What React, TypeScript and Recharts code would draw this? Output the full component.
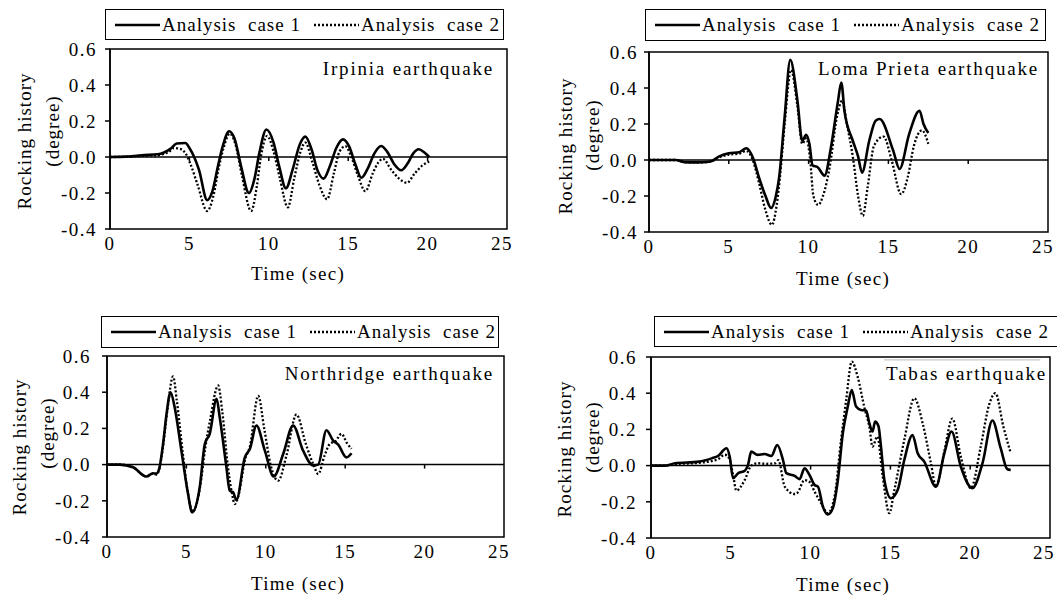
import React from "react";
import {
  LineChart, Line, XAxis, YAxis, ReferenceLine, ReferenceArea, Legend,
} from "recharts";

const FONT = "'Liberation Serif', 'Times New Roman', serif";

const X_TICKS = [0, 5, 10, 15, 20, 25];
const Y_TICKS = [-0.4, -0.2, 0, 0.2, 0.4, 0.6];
const ZERO_TICKS = [5, 10, 15, 20];
const SERIES_NAMES = ["Analysis  case 1", "Analysis  case 2"];

// [time (s), rocking (deg)]
const irpinia1: [number, number][] = [
  [0, 0], [1, 0.002], [1.5, 0.006], [2, 0.01], [3, 0.015], [3.4, 0.025], [3.8, 0.045], [4.2, 0.075],
  [4.75, 0.078], [5.0, 0.05], [5.3, 0.0], [5.6, -0.07], [6.12, -0.24], [6.45, -0.19], [6.8, -0.05],
  [7.1, 0.06], [7.5, 0.143], [7.85, 0.1], [8.25, -0.05], [8.75, -0.2], [9.1, -0.12], [9.4, 0.02],
  [9.85, 0.153], [10.3, 0.08], [10.65, -0.05], [11.08, -0.174], [11.5, -0.07], [11.95, 0.07],
  [12.3, 0.113], [12.7, 0.04], [13.05, -0.07], [13.45, -0.12], [13.85, -0.05], [14.25, 0.05],
  [14.68, 0.098], [15.05, 0.06], [15.45, -0.04], [15.83, -0.115], [16.25, -0.06], [16.65, 0.02],
  [17.07, 0.061], [17.45, 0.03], [17.9, -0.04], [18.34, -0.074], [18.75, -0.035], [19.1, 0.02],
  [19.43, 0.043], [19.8, 0.025], [20.1, 0.0],
];
const irpinia2: [number, number][] = [
  [0, 0], [1, 0.001], [1.5, 0.004], [2, 0.007], [3, 0.01], [3.4, 0.018], [3.8, 0.035], [4.0, 0.05],
  [4.4, 0.045], [4.76, 0.02], [5.07, -0.04], [5.5, -0.15], [6.12, -0.3], [6.5, -0.22], [6.85, -0.06],
  [7.15, 0.05], [7.55, 0.13], [7.9, 0.07], [8.3, -0.1], [8.89, -0.3], [9.25, -0.16], [9.5, 0.0],
  [9.9, 0.117], [10.3, 0.03], [10.7, -0.12], [11.2, -0.28], [11.6, -0.12], [12.0, 0.03],
  [12.3, 0.08], [12.75, -0.03], [13.2, -0.16], [13.67, -0.235], [14.1, -0.09], [14.45, 0.03],
  [14.82, 0.06], [15.2, 0.0], [15.6, -0.1], [16.08, -0.19], [16.55, -0.09], [16.9, -0.03],
  [17.19, -0.01], [17.7, -0.07], [18.2, -0.12], [18.7, -0.143], [19.2, -0.09], [19.7, -0.045],
  [20.1, -0.025],
];

const loma1: [number, number][] = [
  [0, 0], [1.7, 0], [2.2, -0.012], [3.0, -0.013], [3.8, -0.01], [4.4, 0.02], [5.0, 0.037],
  [5.65, 0.043], [6.1, 0.065], [6.5, 0.015], [6.9, -0.1], [7.3, -0.2], [7.65, -0.267], [7.95, -0.2],
  [8.15, -0.1], [8.5, 0.24], [8.85, 0.556], [9.3, 0.33], [9.6, 0.107], [9.85, 0.14], [10.05, 0.09],
  [10.25, -0.03], [10.57, -0.04], [11.0, -0.087], [11.4, 0.07], [11.83, 0.32], [12.05, 0.43],
  [12.25, 0.27], [12.77, 0.107], [13.1, 0.02], [13.35, -0.07], [13.8, 0.107], [14.2, 0.218],
  [14.45, 0.228], [15.3, 0.052], [15.7, -0.05], [16.3, 0.144], [16.95, 0.274], [17.2, 0.2],
  [17.5, 0.15],
];
const loma2: [number, number][] = [
  [0, 0], [1.7, 0], [2.2, -0.012], [3.0, -0.013], [3.8, -0.01], [4.4, 0.015], [5.0, 0.03],
  [5.65, 0.035], [6.1, 0.05], [6.5, 0.0], [6.9, -0.13], [7.3, -0.28], [7.7, -0.36], [8.0, -0.25],
  [8.2, -0.1], [8.5, 0.2], [8.9, 0.5], [9.3, 0.3], [9.6, 0.09], [9.85, 0.12], [10.1, 0.0],
  [10.3, -0.2], [10.6, -0.25], [10.9, -0.2], [11.3, -0.05], [11.8, 0.25], [12.1, 0.33], [12.4, 0.2],
  [12.8, 0.0], [13.1, -0.2], [13.4, -0.31], [13.7, -0.15], [14.1, 0.08], [14.7, 0.13], [15.2, 0.0],
  [15.8, -0.19], [16.2, -0.1], [16.6, 0.08], [17.1, 0.165], [17.5, 0.09],
];

const northridge1: [number, number][] = [
  [0, 0], [0.8, 0], [1.64, -0.015], [2.48, -0.066], [2.9, -0.048], [3.1, -0.05], [3.28, -0.025],
  [3.53, 0.114], [3.75, 0.28], [4.0, 0.4], [4.26, 0.317], [4.68, 0.08], [5.1, -0.16], [5.36, -0.264],
  [5.84, -0.125], [6.16, 0.114], [6.47, 0.17], [6.9, 0.363], [7.1, 0.26], [7.5, 0.0], [7.73, -0.144],
  [7.94, -0.153], [8.15, -0.196], [8.68, 0.04], [9.0, 0.087], [9.41, 0.216], [9.94, 0.077],
  [10.5, -0.066], [11.1, 0.06], [11.72, 0.216], [12.35, 0.077], [12.98, -0.005], [13.3, 0],
  [13.82, 0.19], [14.24, 0.133], [14.56, 0.11], [15.08, 0.04], [15.4, 0.063],
];
const northridge2: [number, number][] = [
  [0, 0], [0.8, 0], [1.64, -0.015], [2.48, -0.066], [2.9, -0.05], [3.1, -0.055], [3.28, -0.03],
  [3.53, 0.1], [3.8, 0.3], [4.16, 0.487], [4.4, 0.35], [4.75, 0.08], [5.1, -0.16], [5.4, -0.26],
  [5.85, -0.13], [6.2, 0.1], [6.5, 0.25], [7.0, 0.437], [7.25, 0.3], [7.6, 0.0], [7.85, -0.15],
  [8.05, -0.218], [8.25, -0.18], [8.7, 0.03], [9.0, 0.1], [9.52, 0.38], [9.9, 0.2], [10.3, 0.0],
  [10.78, -0.089], [11.3, 0.05], [11.93, 0.277], [12.5, 0.12], [13.0, 0.0], [13.3, -0.052],
  [13.7, 0.05], [14.03, 0.114], [14.4, 0.13], [14.77, 0.17], [15.1, 0.12], [15.4, 0.087],
];

const tabas1: [number, number][] = [
  [0, 0], [0.9, 0], [1.5, 0.013], [3.0, 0.022], [3.8, 0.04], [4.2, 0.053], [4.73, 0.096],
  [4.93, 0.05], [5.14, -0.07], [5.46, -0.042], [5.88, -0.028], [6.08, 0.004], [6.28, 0.077],
  [6.68, 0.059], [7.12, 0.064], [7.54, 0.053], [7.91, 0.114], [8.27, 0.031], [8.48, -0.042],
  [9.0, -0.057], [9.31, -0.075], [9.62, -0.015], [9.93, -0.052], [10.25, -0.107], [10.46, -0.116],
  [10.77, -0.227], [11.08, -0.27], [11.39, -0.236], [11.71, -0.079], [12.02, 0.179], [12.33, 0.326],
  [12.58, 0.418], [12.85, 0.326], [13.16, 0.307], [13.48, 0.304], [13.68, 0.234], [13.88, 0.188],
  [14.04, 0.243], [14.25, 0.219], [14.41, 0.105], [14.62, -0.079], [15.04, -0.18], [15.46, -0.134],
  [15.87, 0.031], [16.39, 0.169], [16.71, 0.068], [17.12, 0.022], [17.85, -0.116], [18.38, 0.068],
  [18.83, 0.188], [19.41, -0.005], [20.14, -0.125], [20.77, 0.013], [21.39, 0.249], [21.91, 0.096],
  [22.33, -0.02], [22.54, -0.024],
];
const tabas2: [number, number][] = [
  [0, 0], [0.9, 0], [1.5, 0.008], [3.0, 0.015], [3.8, 0.025], [4.2, 0.035], [4.62, 0.06],
  [4.9, 0.04], [5.14, -0.05], [5.35, -0.138], [5.87, -0.08], [6.28, 0], [6.68, 0.013], [7.2, 0.01],
  [7.78, 0.013], [7.98, 0.03], [8.38, -0.116], [9.0, -0.157], [9.18, -0.15], [9.62, -0.08],
  [9.93, -0.09], [10.25, -0.144], [10.66, -0.208], [11.08, -0.263], [11.5, -0.171], [11.91, 0.142],
  [12.23, 0.363], [12.58, 0.575], [12.95, 0.49], [13.38, 0.317], [13.68, 0.215], [13.88, 0.105],
  [14.18, 0.16], [14.52, -0.06], [14.93, -0.263], [15.25, -0.134], [15.87, 0.142], [16.5, 0.372],
  [17.02, 0.234], [17.54, 0.013], [17.85, -0.116], [18.38, 0.08], [18.88, 0.26], [19.41, 0.05],
  [20.04, -0.125], [20.66, 0.105], [21.18, 0.335], [21.58, 0.4], [22.08, 0.215], [22.54, 0.068],
];

const toRows = (pts: [number, number][]) => pts.map(([t, v]) => ({ t, v }));

type PanelCfg = {
  x: number; y: number; w: number; h: number;
  margin: { top: number; right: number; bottom: number; left: number };
  legend: { left: number; top: number; width: number; height: number };
  ytm: number;
  s1: [number, number][]; s2: [number, number][];
  title: string; titleX: number; titleY: number;
  yl1: [number, number]; yl2: [number, number];
  xl: [number, number];
  rule?: boolean;
};

const PANELS: PanelCfg[] = [
  {
    x: 0, y: 0, w: 530, h: 300,
    margin: { top: 49, right: 23, bottom: 41, left: 50 },
    legend: { left: 105, top: 9, width: 399, height: 31 }, ytm: 8,
    s1: irpinia1, s2: irpinia2,
    title: "Irpinia earthquake", titleX: 494, titleY: 68,
    yl1: [24, 141], yl2: [52, 131], xl: [298, 273],
  },
  {
    x: 530, y: 0, w: 527, h: 300,
    margin: { top: 52, right: 9, bottom: 38, left: 59 },
    legend: { left: 115, top: 9, width: 401, height: 32 }, ytm: 6,
    s1: loma1, s2: loma2,
    title: "Loma Prieta earthquake", titleX: 1039, titleY: 68,
    yl1: [565, 146], yl2: [592, 135], xl: [843, 278],
  },
  {
    x: 0, y: 300, w: 530, h: 297,
    margin: { top: 56, right: 26, bottom: 30, left: 47 },
    legend: { left: 101, top: 16, width: 398, height: 32 }, ytm: 11,
    s1: northridge1, s2: northridge2,
    title: "Northridge earthquake", titleX: 494, titleY: 373,
    yl1: [19, 447], yl2: [47, 433], xl: [298, 583],
  },
  {
    x: 530, y: 300, w: 527, h: 297,
    margin: { top: 57, right: 7, bottom: 29, left: 61 },
    legend: { left: 124, top: 16, width: 420, height: 31 }, ytm: 9,
    s1: tabas1, s2: tabas2,
    title: "Tabas earthquake", titleX: 1047, titleY: 373,
    yl1: [564, 449], yl2: [592, 437], xl: [843, 584],
    rule: true,
  },
];

const tickStyle = { fill: "#000", fontSize: 19, fontFamily: FONT, letterSpacing: 1.5 };

// last x label sits a little left of the axis end, like the original
function XTick({ x, y, payload }: any) {
  const shift = payload.value === 25 ? -5 : 0;
  return (
    <text x={x + shift} y={y} dy="0.71em" textAnchor="middle" {...tickStyle}>
      {payload.value}
    </text>
  );
}

function LegendBox({ payload, width, height }: any) {
  const items = payload ?? [];
  return (
    <div
      style={{
        width, height, boxSizing: "border-box", border: "1.5px solid #000", background: "#fff",
        display: "flex", alignItems: "center", paddingLeft: 9, fontFamily: FONT, fontSize: 19,
        letterSpacing: 1, whiteSpace: "pre", color: "#000",
      }}
    >
      {items.map((it: any, i: number) => (
        <React.Fragment key={i}>
          <svg width={45} height={10} style={{ marginLeft: i === 0 ? 0 : 13, marginRight: 2 }}>
            <line x1={0} y1={5} x2={45} y2={5} stroke="#000" strokeWidth={2.5}
              strokeDasharray={i === 0 ? undefined : "2 2"} />
          </svg>
          <span>{it.value}</span>
        </React.Fragment>
      ))}
    </div>
  );
}

function Panel({ cfg }: { cfg: PanelCfg }) {
  const { legend } = cfg;
  return (
    <div style={{ position: "absolute", left: cfg.x, top: cfg.y }}>
      <LineChart width={cfg.w} height={cfg.h} margin={cfg.margin}>
        <XAxis type="number" dataKey="t" domain={[0, 25]} ticks={X_TICKS} allowDataOverflow
          axisLine={false} tickLine={false} tick={<XTick />} height={30} />
        <YAxis type="number" dataKey="v" domain={[-0.4, 0.6]} ticks={Y_TICKS} allowDataOverflow
          tickFormatter={(v: number) => v.toFixed(1)} width={60}
          axisLine={{ stroke: "#000", strokeWidth: 1.5 }} tickLine={{ stroke: "#000", strokeWidth: 1.5 }}
          tickSize={5} tickMargin={cfg.ytm} tick={tickStyle} />
        <ReferenceArea x1={0} x2={25} y1={-0.4} y2={0.6} fill="none" fillOpacity={0}
          stroke="#000" strokeWidth={1.5} strokeOpacity={1} />
        <ReferenceLine y={0} stroke="#000" strokeWidth={1.5} />
        {ZERO_TICKS.map((t) => (
          <ReferenceLine key={t} segment={[{ x: t, y: 0 }, { x: t, y: -0.022 }]} stroke="#000" strokeWidth={1.5} />
        ))}
        {cfg.rule && (
          <ReferenceLine segment={[{ x: 14.6, y: 0.584 }, { x: 24.4, y: 0.584 }]} stroke="#bbb" strokeWidth={1} />
        )}
        <Line data={toRows(cfg.s2)} dataKey="v" name={SERIES_NAMES[1]} type="monotone" stroke="#000"
          strokeWidth={2.3} strokeDasharray="2 2" dot={false} isAnimationActive={false} />
        <Line data={toRows(cfg.s1)} dataKey="v" name={SERIES_NAMES[0]} type="monotone" stroke="#000"
          strokeWidth={2.6} dot={false} isAnimationActive={false} />
        <Legend layout="horizontal" verticalAlign="middle" align="center"
          wrapperStyle={{ left: legend.left, top: legend.top, width: legend.width, height: legend.height }}
          content={(p: any) => {
            const ordered = [...(p.payload ?? [])].sort((a: any, b: any) =>
              SERIES_NAMES.indexOf(a.value) - SERIES_NAMES.indexOf(b.value));
            return <LegendBox payload={ordered} width={legend.width} height={legend.height} />;
          }} />
      </LineChart>
    </div>
  );
}

export default function App() {
  return (
    <div style={{ position: "absolute", left: 0, top: 0, width: 1057, height: 597, overflow: "hidden", background: "#fff" }}>
      {PANELS.map((p, i) => <Panel key={i} cfg={p} />)}
      <svg width={1057} height={597} style={{ position: "absolute", left: 0, top: 0, pointerEvents: "none" }}
        fontFamily={FONT} fontSize={19} letterSpacing={1} fill="#000">
        {PANELS.map((p, i) => (
          <g key={i}>
            <text x={p.titleX} y={p.titleY} textAnchor="end" dominantBaseline="central" letterSpacing={1.8}>{p.title}</text>
            <text x={p.yl1[0]} y={p.yl1[1]} textAnchor="middle" dominantBaseline="central"
              transform={`rotate(-90 ${p.yl1[0]} ${p.yl1[1]})`}>Rocking history</text>
            <text x={p.yl2[0]} y={p.yl2[1]} textAnchor="middle" dominantBaseline="central"
              transform={`rotate(-90 ${p.yl2[0]} ${p.yl2[1]})`}>(degree)</text>
            <text x={p.xl[0]} y={p.xl[1]} textAnchor="middle" dominantBaseline="central" letterSpacing={1.3}>Time (sec)</text>
          </g>
        ))}
      </svg>
    </div>
  );
}
